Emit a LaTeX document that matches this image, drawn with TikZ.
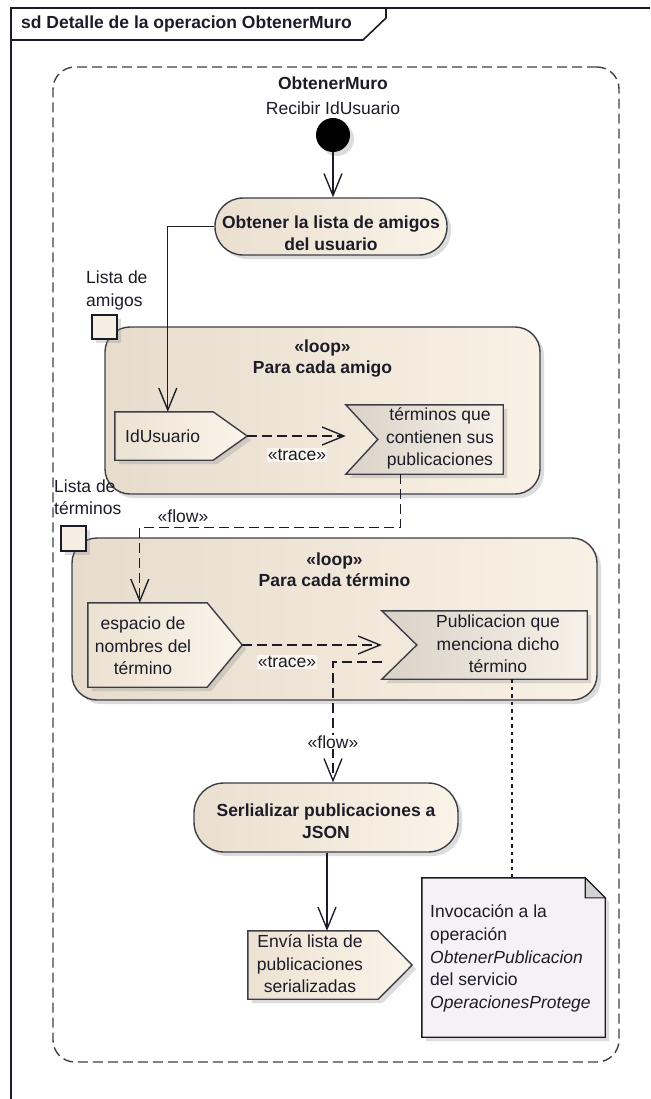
\documentclass[tikz,border=0pt]{standalone}
\usepackage{fontspec}
\setmainfont{Liberation Sans}
\usetikzlibrary{arrows.meta,shadows,calc}

\pgfdeclarelayer{back}
\pgfdeclarelayer{mid}
\pgfsetlayers{back,mid,main}

\definecolor{ink}{HTML}{1C1C28}
\definecolor{actL}{HTML}{EADFCF}
\definecolor{actR}{HTML}{FAF3E8}
\definecolor{regL}{HTML}{E7DCCC}
\definecolor{regR}{HTML}{F9F1E5}
\definecolor{pinL}{HTML}{ECE2D2}
\definecolor{pinR}{HTML}{FBF4EA}
\definecolor{rcvL}{HTML}{DAD2C7}
\definecolor{rcvR}{HTML}{F7F1E9}
\definecolor{sqFill}{HTML}{F6EEE2}
\definecolor{noteFill}{HTML}{F6F1F6}
\definecolor{foldFill}{HTML}{D2D2D2}
\definecolor{lblFill}{HTML}{FAF5EE}

% object pin pointing right (send)
\newcommand\drawSendPin[2]{%
  \begin{pgfonlayer}{mid}
    \path[pinbody] (#1.north west) -- ([xshift=-#2]#1.north east) -- (#1.east)
      -- ([xshift=-#2]#1.south east) -- (#1.south west) -- cycle;
  \end{pgfonlayer}}
% object pin notched on the left (receive)
\newcommand\drawRecvPin[2]{%
  \begin{pgfonlayer}{mid}
    \path[pinbody, left color=rcvL, right color=rcvR] (#1.north west) -- (#1.north east)
      -- (#1.south east) -- (#1.south west) -- ([xshift=#2]#1.west) -- cycle;
  \end{pgfonlayer}}

\begin{document}
\begin{tikzpicture}[x=1pt, y=-1pt,
  txt/.style={font=\fontsize{17.5}{22.5}\selectfont, text=ink, inner sep=0pt, align=center},
  txtb/.style={txt, font=\bfseries\fontsize{17.5}{22.5}\selectfont},
  slot/.style 2 args={rectangle, inner sep=0pt, minimum width=#1, minimum height=#2},
  shadowed/.style={drop shadow={shadow xshift=4pt, shadow yshift=-4pt, fill=black!45, opacity=0.3}},
  action/.style={rectangle, rounded corners=#1, draw=ink!85, line width=1.4pt,
    left color=actL, right color=actR, shadowed},
  region/.style={rectangle, rounded corners=25pt, draw=ink!85, line width=1.4pt,
    left color=regL, right color=regR, shadowed},
  pinbody/.style={draw=ink!85, line width=1.4pt, left color=pinL, right color=pinR, shadowed},
  flowarr/.style={line width=1.35pt, draw=ink, -{Straight Barb[length=22pt,width=18pt]}},
  dashflow/.style={flowarr, dash pattern=on 10pt off 5pt},
  notelink/.style={line width=1.5pt, draw=ink, dash pattern=on 3.5pt off 4pt},
]
\useasboundingbox (0,0) rectangle (650,1099);

% diagram frame and its name tab
\draw[line width=1.6pt, ink] (11,1099) -- (11,8) -- (650,8);
\draw[line width=1.6pt, ink] (11,40) -- (363,40) -- (386,18) -- (386,8);
\node[txtb, anchor=west] (title) at (21,24) {sd Detalle de la operacion ObtenerMuro};

% activity boundary and the two expansion regions
\begin{pgfonlayer}{back}
  \node[slot={566pt}{995pt}, draw=ink!85, line width=1.4pt, dash pattern=on 10pt off 5pt,
        rounded corners=22pt] (act) at (336,564.5) {};
  \node[region, slot={435pt}{167pt}] (loop1) at (322.5,410.5) {};
  \node[region, slot={525pt}{162pt}] (loop2) at (334.5,619) {};
\end{pgfonlayer}

\node[txtb] (muro) at (333,83) {ObtenerMuro};
\node[txt] (recv) at (333,108) {Recibir IdUsuario};
\node[circle, fill=black, minimum size=34pt, inner sep=0pt, shadowed] (init) at (333,135) {};

% first action
\node[action=28pt, slot={232pt}{57pt}] (a1) at (331,226.5) {};
\node[txtb] (a1t) at (331,233) {Obtener la lista de amigos\\del usuario};

% loop over friends
\node[slot={25pt}{24pt}, draw=ink, line width=1.3pt, fill=sqFill, shadowed] (sq1) at (104.5,327) {};
\node[txt, anchor=west, align=left] (lab1) at (86,290.5) {Lista de\\amigos};
\node[txtb, font=\bfseries\fontsize{17.5}{21}\selectfont] (lt1) at (322.5,358.5) {«loop»\\Para cada amigo};

\node[slot={132pt}{48pt}] (p1) at (181,436) {};
\drawSendPin{p1}{34pt}
\node[txt, anchor=west] (p1t) at (125,436) {IdUsuario};

\node[slot={157pt}{69pt}] (p2) at (424.5,439.5) {};
\drawRecvPin{p2}{32pt}
\node[txt] (p2t) at (440,438.5) {términos que\\contienen sus\\publicaciones};

% loop over terms
\node[slot={25pt}{25pt}, draw=ink, line width=1.3pt, fill=sqFill, shadowed] (sq2) at (73.5,538.5) {};
\node[txt, anchor=west, align=left] (lab2) at (54,497) {Lista de\\términos};
\node[txtb, font=\bfseries\fontsize{17.5}{21}\selectfont] (lt2) at (334.5,570) {«loop»\\Para cada término};

\node[slot={154pt}{84pt}] (p3) at (165,645) {};
\drawSendPin{p3}{35pt}
\node[txt] (p3t) at (143,646) {espacio de\\nombres del\\término};

\node[slot={205pt}{68pt}] (p4) at (484.5,645) {};
\drawRecvPin{p4}{35pt}
\node[txt] (p4t) at (498,644) {Publicacion que\\menciona dicho\\término};

% serialisation and output
\node[action=30pt, slot={264pt}{69pt}] (a2) at (326,817.5) {};
\node[txtb] (a2t) at (326,821) {Serlializar publicaciones a\\JSON};

\node[slot={164pt}{68pt}] (p5) at (330,965) {};
\drawSendPin{p5}{34pt}
\node[txt] (p5t) at (310,964) {Envía lista de\\publicaciones\\serializadas};

% note with folded corner
\node[slot={183pt}{159pt}] (note) at (513.5,957.5) {};
\begin{pgfonlayer}{mid}
  \path[draw=ink, line width=1.4pt, fill=noteFill, shadowed]
    (note.north west) -- ([xshift=-20pt]note.north east) -- ([yshift=-20pt]note.north east)
    -- (note.south east) -- (note.south west) -- cycle;
  \path[draw=ink, line width=1.1pt, fill=foldFill]
    ([xshift=-20pt]note.north east) -- ([xshift=-20pt,yshift=-20pt]note.north east)
    -- ([yshift=-20pt]note.north east) -- cycle;
\end{pgfonlayer}
\node[txt, anchor=west, align=left, font=\fontsize{17.5}{22.75}\selectfont] (notet) at (430,958.5)
  {Invocación a la\\operación\\\textit{ObtenerPublicacion}\\del servicio\\\textit{OperacionesProtege}};

% control and object flows
\draw[flowarr] (init.south) -- (init.south |- a1.north);
\draw[flowarr] (a1.west) -| ([xshift=53pt]p1.north west);
\draw[dashflow] (p1.east) -- (p1.east -| p2.west);
\draw[dashflow] ([xshift=55pt]p2.south west) -- ++(0,53) -| ([xshift=52pt]p3.north west);
\draw[dashflow] (p3.east) -- (p3.east -| p4.west);
\draw[dashflow] ([yshift=-17pt]p4.west) -| ([xshift=7pt]a2.north);
\draw[flowarr] ([xshift=1pt]a2.south) -- ([xshift=1pt]a2.south |- p5.north);
\draw[notelink] ([xshift=130pt]p4.south west) -- ([xshift=130pt]p4.south west |- note.north);

% connector labels
\node[txt, fill=lblFill, inner sep=1pt] (tr1) at (297,455) {«trace»};
\node[txt] (fl1) at (183,516) {«flow»};
\node[txt, fill=lblFill, inner sep=1pt] (tr2) at (287,662) {«trace»};
\node[txt, fill=white, inner sep=1pt] (fl2) at (333,742) {«flow»};
\end{tikzpicture}
\end{document}
